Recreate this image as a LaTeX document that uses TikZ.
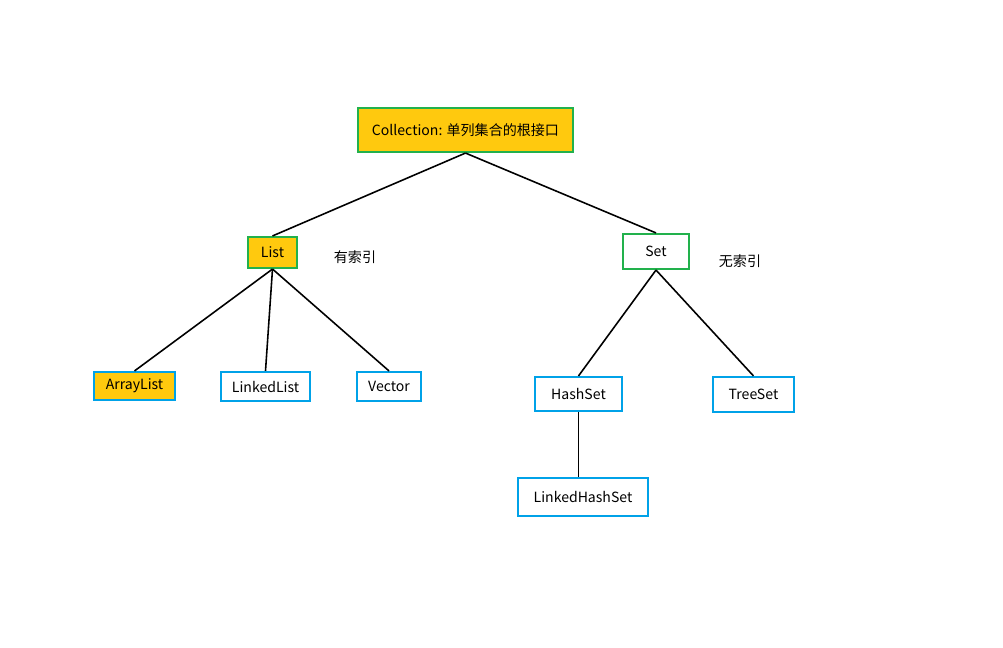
\documentclass[tikz,border=0pt]{standalone}
\usepackage{fontspec}
\setmainfont{Noto Sans CJK SC}
\usepackage{tikz}
\definecolor{gold}{HTML}{FFC90E}
\definecolor{boxgreen}{HTML}{22B14C}
\definecolor{boxblue}{HTML}{00A2E8}
\tikzset{
	px/.style={x=0.02cm,y=-0.02cm},
	topbox/.style={draw=boxgreen,line width=1.2pt,fill=gold,inner sep=0pt,font=\fontsize{8}{10}\selectfont},
	setbox/.style={draw=boxgreen,line width=1.2pt,fill=white,inner sep=0pt,font=\fontsize{8}{10}\selectfont},
	leafbox/.style={draw=boxblue,line width=1.2pt,fill=white,inner sep=0pt,font=\fontsize{8}{10}\selectfont},
	tag/.style={font=\fontsize{8}{10}\selectfont},
	link/.style={line width=0.9pt}}
\begin{document}
\begin{tikzpicture}[px]
	\useasboundingbox (0,0) rectangle (1003,648);
	\node[topbox,minimum width=215*0.02cm,minimum height=44*0.02cm](coll) at (465.5,130){Collection: 单列集合的根接口};
	\node[topbox,minimum width=49*0.02cm,minimum height=31*0.02cm](list) at (272.5,252.5){List};
	\node[setbox,minimum width=66*0.02cm,minimum height=35*0.02cm](set) at (656,251.5){Set};
	\node[tag](idx) at (355,257){有索引};
	\node[tag](noidx) at (740,261){无索引};
	\node[topbox,draw=boxblue,minimum width=81*0.02cm,minimum height=28*0.02cm](alist) at (134.5,386){ArrayList};
	\node[leafbox,minimum width=89*0.02cm,minimum height=29*0.02cm](llist) at (265.5,386.5){LinkedList};
	\node[leafbox,minimum width=64*0.02cm,minimum height=29*0.02cm](vec) at (389,386.5){Vector};
	\node[leafbox,minimum width=87*0.02cm,minimum height=34*0.02cm](hset) at (578.5,394){HashSet};
	\node[leafbox,minimum width=81*0.02cm,minimum height=35*0.02cm](tset) at (753.5,394.5){TreeSet};
	\node[leafbox,minimum width=130*0.02cm,minimum height=38*0.02cm](lhset) at (583,497){LinkedHashSet};
	\draw[link](coll.south)--(list.north);
	\draw[link](coll.south)--(set.north);
	\draw[link](list.south)--(alist.north);
	\draw[link](list.south)--(llist.north);
	\draw[link](list.south)--(vec.north);
	\draw[link](set.south)--(hset.north);
	\draw[link](set.south)--(tset.north);
	\draw[link](hset.south)--(hset.south|-lhset.north);
\end{tikzpicture}
\end{document}
